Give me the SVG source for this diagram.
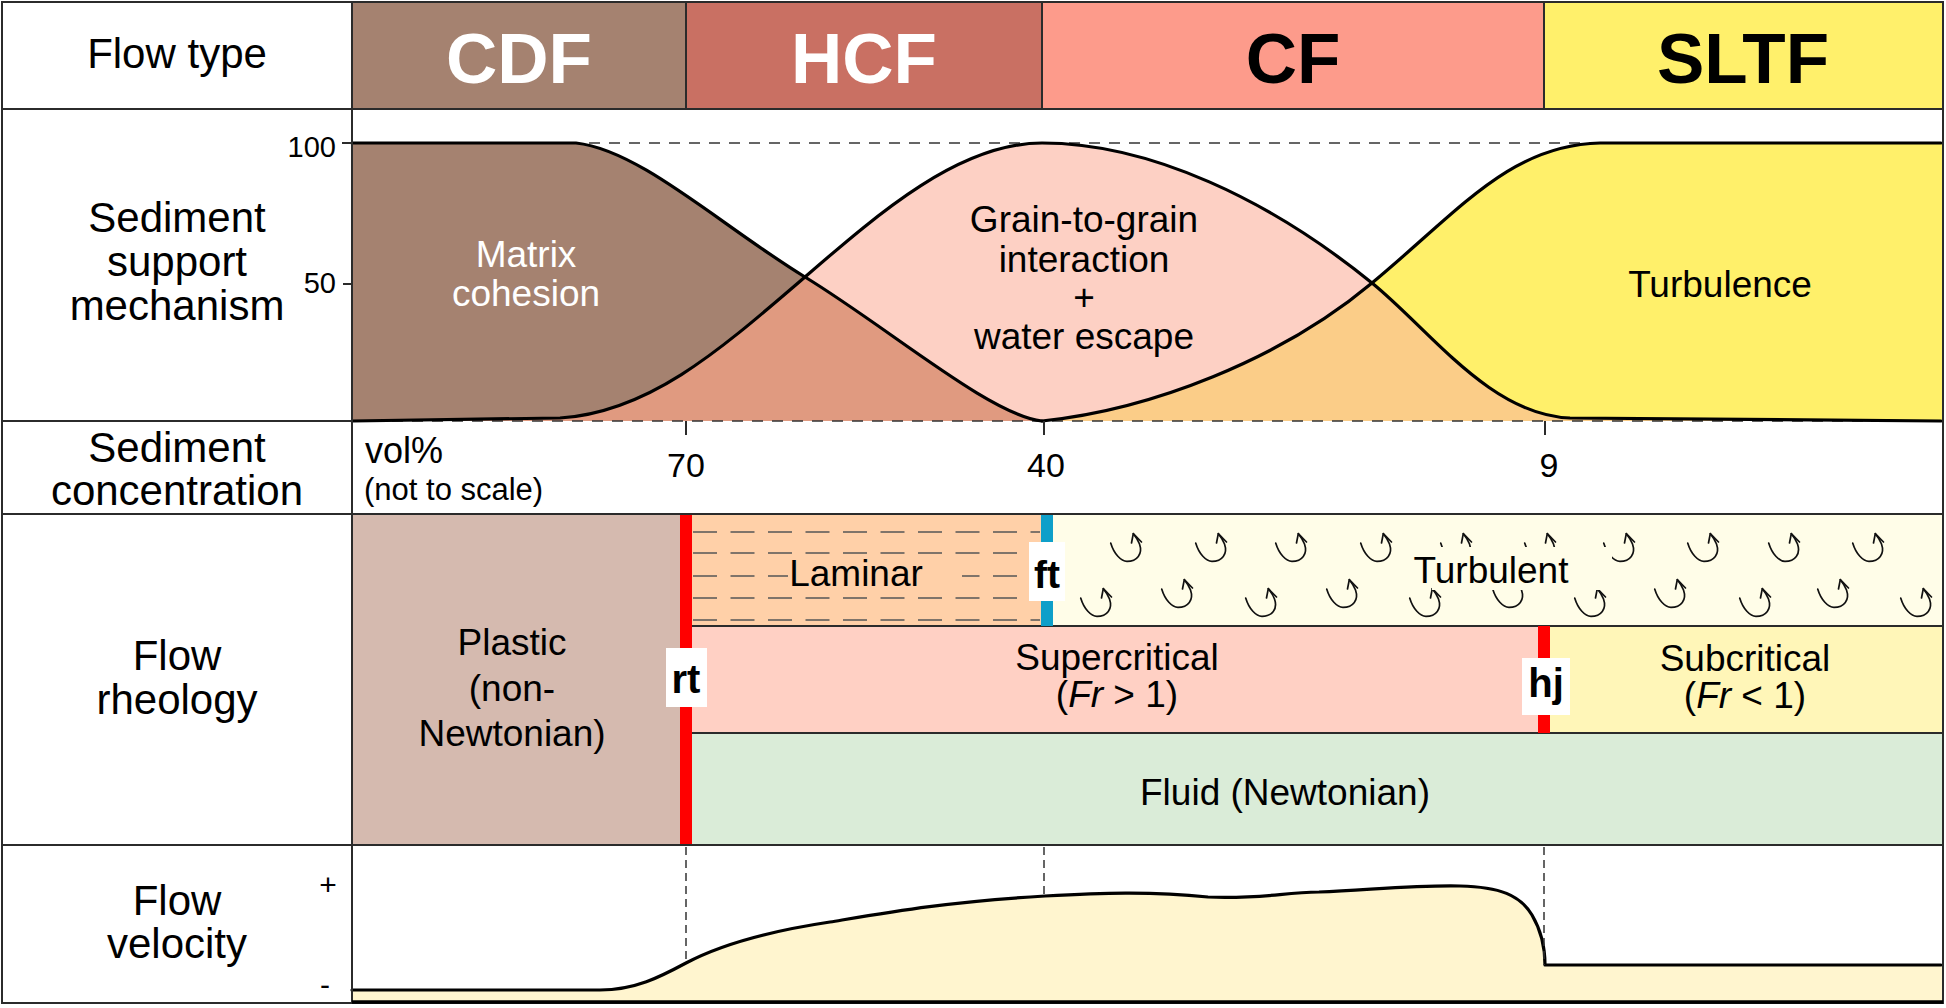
<svg xmlns="http://www.w3.org/2000/svg" xmlns:xlink="http://www.w3.org/1999/xlink" width="1946" height="1008" viewBox="0 0 1946 1008">
<style>
.t{font-family:"Liberation Sans",Arial,Helvetica,sans-serif;fill:#000}
.lab{font-size:42px;text-anchor:middle}
.hdr{font-size:71px;font-weight:bold;text-anchor:middle}
.m37{font-size:37px;text-anchor:middle}
.w{fill:#fff}
.bold{font-weight:bold}
.grid{stroke:#2b2b2b;stroke-width:2;fill:none}
.dash{stroke:#333;stroke-width:1.6;stroke-dasharray:11 9;fill:none}
.vdash{stroke:#333;stroke-width:1.5;stroke-dasharray:8 5;fill:none}
.curve{fill:none;stroke:#000;stroke-width:3.2;stroke-linejoin:round;stroke-linecap:round}
.lam{stroke:#555;stroke-width:1.5;stroke-dasharray:24 13.5;fill:none}
.eddy{fill:none;stroke:#111;stroke-width:1.7;stroke-linecap:round;stroke-linejoin:round}
</style>
<defs>
<g id="ed" class="eddy">
<path d="M0.7,10 C4,21 11,28.3 17,28.3 C27,28.3 33,21 29.5,11 C28,7 26,4 23.3,0.7"/>
<path d="M21.5,10 L23.3,0.7 L31.5,9"/>
</g>
</defs>
<rect x="0" y="0" width="1946" height="1008" fill="#fff"/>

<g id="header">
<rect x="352" y="2" width="334" height="107" fill="#A58270"/>
<rect x="686" y="2" width="356" height="107" fill="#C97063"/>
<rect x="1042" y="2" width="502" height="107" fill="#FD9B8B"/>
<rect x="1544" y="2" width="399" height="107" fill="#FFF06B"/>
<line class="grid" x1="686" y1="2" x2="686" y2="109"/>
<line class="grid" x1="1042" y1="2" x2="1042" y2="109"/>
<line class="grid" x1="1544" y1="2" x2="1544" y2="109"/>
<text class="t lab" x="177" y="68">Flow type</text>
<text class="t hdr w" x="519" y="83">CDF</text>
<text class="t hdr w" x="864" y="83">HCF</text>
<text class="t hdr" x="1293" y="83">CF</text>
<text class="t hdr" x="1743" y="83">SLTF</text>
</g>

<g id="support">
<path d="M352,143 L576,143 C640,150 720,225 805,277 C890,329 990,415 1042,421 L352,421 Z" fill="#A58270"/>
<path d="M352,421 L560,418 C650,412 720,350 805,277 C880,212 960,143 1042,143 C1150,143 1270,200 1372,283 C1430,330 1490,415 1570,418 L1943,421 Z" fill="#FDD0C4"/>
<path d="M1042,421 C1150,410 1280,360 1372,283 C1460,210 1510,145 1600,143 L1943,143 L1943,421 Z" fill="#FFF06A"/>
<path d="M352,421 L560,418 C650,412 720,350 805,277 C890,329 990,415 1042,421 Z" fill="#E09A80"/>
<path d="M1042,421 C1150,410 1280,360 1372,283 C1430,330 1490,415 1570,418 L1943,421 Z" fill="#FBCD88"/>
<line class="dash" x1="589" y1="143" x2="1600" y2="143"/>
<line class="dash" x1="352" y1="421" x2="1943" y2="421"/>
<path class="curve" d="M352,143 L576,143 C640,150 720,225 805,277 C890,329 990,415 1042,421"/>
<path class="curve" d="M352,421 L560,418 C650,412 720,350 805,277 C880,212 960,143 1042,143 C1150,143 1270,200 1372,283 C1430,330 1490,415 1570,418 L1941,421"/>
<path class="curve" d="M1042,421 C1150,410 1280,360 1372,283 C1460,210 1510,145 1600,143 L1941,143"/>
<line class="grid" x1="342" y1="143" x2="352" y2="143"/>
<line class="grid" x1="343" y1="284" x2="352" y2="284"/>
<text class="t" x="336" y="157" font-size="29" text-anchor="end">100</text>
<text class="t" x="336" y="293" font-size="29" text-anchor="end">50</text>
<text class="t lab" x="177" y="232">Sediment</text>
<text class="t lab" x="177" y="276">support</text>
<text class="t lab" x="177" y="320">mechanism</text>
<text class="t m37 w" x="526" y="267">Matrix</text>
<text class="t m37 w" x="526" y="306">cohesion</text>
<text class="t m37" x="1084" y="232">Grain-to-grain</text>
<text class="t m37" x="1084" y="272">interaction</text>
<text class="t m37" x="1084" y="310">+</text>
<text class="t m37" x="1084" y="349">water escape</text>
<text class="t m37" x="1720" y="297">Turbulence</text>
</g>

<g id="concentration">
<line class="grid" x1="686" y1="421" x2="686" y2="435"/>
<line class="grid" x1="1044" y1="421" x2="1044" y2="435"/>
<line class="grid" x1="1545" y1="421" x2="1545" y2="435"/>
<text class="t lab" x="177" y="462">Sediment</text>
<text class="t lab" x="177" y="505">concentration</text>
<text class="t" x="365" y="463" font-size="36">vol%</text>
<text class="t" x="364" y="500" font-size="31">(not to scale)</text>
<text class="t" x="686" y="477" font-size="34" text-anchor="middle">70</text>
<text class="t" x="1046" y="477" font-size="34" text-anchor="middle">40</text>
<text class="t" x="1549" y="477" font-size="34" text-anchor="middle">9</text>
</g>

<g id="rheology">
<rect x="352" y="514" width="328" height="331" fill="#D5BAAF"/>
<rect x="692" y="514" width="350" height="112" fill="#FFD0A8"/>
<rect x="1053" y="514" width="890" height="112" fill="#FFFDE8"/>
<rect x="692" y="626" width="852" height="107" fill="#FFD0C4"/>
<rect x="1550" y="626" width="393" height="107" fill="#FFF6B8"/>
<rect x="692" y="733" width="1251" height="112" fill="#DAECD8"/>
<g id="laminar-lines">
<line class="lam" x1="693" y1="532" x2="1040" y2="532"/>
<line class="lam" x1="693" y1="553" x2="1040" y2="553"/>
<line class="lam" x1="693" y1="576" x2="1040" y2="576"/>
<line class="lam" x1="693" y1="598" x2="1040" y2="598"/>
<line class="lam" x1="693" y1="620" x2="1040" y2="620"/>
</g>
<rect x="788" y="561" width="174" height="30" fill="#FFD0A8"/>
<text class="t m37" x="856" y="586">Laminar</text>
<g id="eddies">
<use xlink:href="#ed" href="#ed" x="1110" y="533"/>
<use xlink:href="#ed" href="#ed" x="1195" y="533"/>
<use xlink:href="#ed" href="#ed" x="1275" y="533"/>
<use xlink:href="#ed" href="#ed" x="1360" y="533"/>
<use xlink:href="#ed" href="#ed" x="1440" y="533"/>
<use xlink:href="#ed" href="#ed" x="1524" y="533"/>
<use xlink:href="#ed" href="#ed" x="1603" y="533"/>
<use xlink:href="#ed" href="#ed" x="1687" y="533"/>
<use xlink:href="#ed" href="#ed" x="1768" y="533"/>
<use xlink:href="#ed" href="#ed" x="1852" y="533"/>
<use xlink:href="#ed" href="#ed" x="1080" y="588"/>
<use xlink:href="#ed" href="#ed" x="1161" y="579"/>
<use xlink:href="#ed" href="#ed" x="1245" y="588"/>
<use xlink:href="#ed" href="#ed" x="1326" y="579"/>
<use xlink:href="#ed" href="#ed" x="1409" y="588"/>
<use xlink:href="#ed" href="#ed" x="1492" y="579"/>
<use xlink:href="#ed" href="#ed" x="1574" y="588"/>
<use xlink:href="#ed" href="#ed" x="1654" y="579"/>
<use xlink:href="#ed" href="#ed" x="1739" y="588"/>
<use xlink:href="#ed" href="#ed" x="1817" y="579"/>
<use xlink:href="#ed" href="#ed" x="1900" y="588"/>
</g>
<rect x="1432" y="547" width="180" height="43" fill="#FFFDE8"/>
<text class="t m37" x="1491" y="583">Turbulent</text>
<line class="grid" x1="692" y1="626" x2="1943" y2="626"/>
<line class="grid" x1="692" y1="733" x2="1943" y2="733"/>
<rect x="680" y="514" width="12" height="331" fill="#FF0000"/>
<rect x="1041" y="514" width="12" height="112" fill="#0E9FC9"/>
<rect x="1538" y="626" width="12" height="107" fill="#FF0000"/>
<rect x="666" y="648" width="41" height="59" fill="#fff"/>
<text class="t bold" x="686" y="693" font-size="40" text-anchor="middle">rt</text>
<rect x="1029" y="542" width="36" height="59" fill="#fff"/>
<text class="t bold" x="1047" y="588" font-size="39" text-anchor="middle">ft</text>
<rect x="1522" y="658" width="48" height="57" fill="#fff"/>
<text class="t bold" x="1546" y="697" font-size="40" text-anchor="middle">hj</text>
<text class="t lab" x="177" y="670">Flow</text>
<text class="t lab" x="177" y="714">rheology</text>
<text class="t m37" x="512" y="655">Plastic</text>
<text class="t m37" x="512" y="701">(non-</text>
<text class="t m37" x="512" y="746">Newtonian)</text>
<text class="t m37" x="1117" y="670">Supercritical</text>
<text class="t m37" x="1117" y="707">(<tspan font-style="italic">Fr</tspan> &gt; 1)</text>
<text class="t m37" x="1745" y="671">Subcritical</text>
<text class="t m37" x="1745" y="708">(<tspan font-style="italic">Fr</tspan> &lt; 1)</text>
<text class="t m37" x="1285" y="805">Fluid (Newtonian)</text>
</g>

<g id="velocity">
<path d="M352,990 L600,990 C635,990 660,977 686,963 C720,945 770,931 830,922 C890,912 945,902 1045,896 C1100,893 1150,891 1208,897 C1260,899 1280,893 1319,892 C1380,889 1420,885 1460,886 C1500,887 1520,895 1532,915 C1542,932 1545,950 1545,965 L1943,965 L1943,1002 L352,1002 Z" fill="#FFF5CF"/>
<path class="curve" d="M352,990 L600,990 C635,990 660,977 686,963 C720,945 770,931 830,922 C890,912 945,902 1045,896 C1100,893 1150,891 1208,897 C1260,899 1280,893 1319,892 C1380,889 1420,885 1460,886 C1500,887 1520,895 1532,915 C1542,932 1545,950 1545,965 L1941,965"/>
<text class="t lab" x="177" y="915">Flow</text>
<text class="t lab" x="177" y="958">velocity</text>
<text class="t" x="328" y="895" font-size="30" text-anchor="middle">+</text>
<text class="t" x="325" y="995" font-size="30" text-anchor="middle">-</text>
</g>

<g id="connectors">
<line class="vdash" x1="686" y1="847" x2="686" y2="963"/>
<line class="vdash" x1="1044" y1="847" x2="1044" y2="895"/>
<line class="vdash" x1="1544" y1="847" x2="1544" y2="965"/>
</g>

<g id="frame">
<line class="grid" x1="2" y1="109" x2="1943" y2="109"/>
<line class="grid" x1="2" y1="421" x2="352" y2="421"/>
<line class="grid" x1="2" y1="514" x2="1943" y2="514"/>
<line class="grid" x1="2" y1="845" x2="1943" y2="845"/>
<line class="grid" x1="352" y1="2" x2="352" y2="1003"/>
<rect class="grid" x="2" y="2" width="1941" height="1001" stroke-width="2.5"/>
<line x1="352" y1="1002" x2="1943" y2="1002" stroke="#000" stroke-width="3.5"/>
</g>
</svg>
